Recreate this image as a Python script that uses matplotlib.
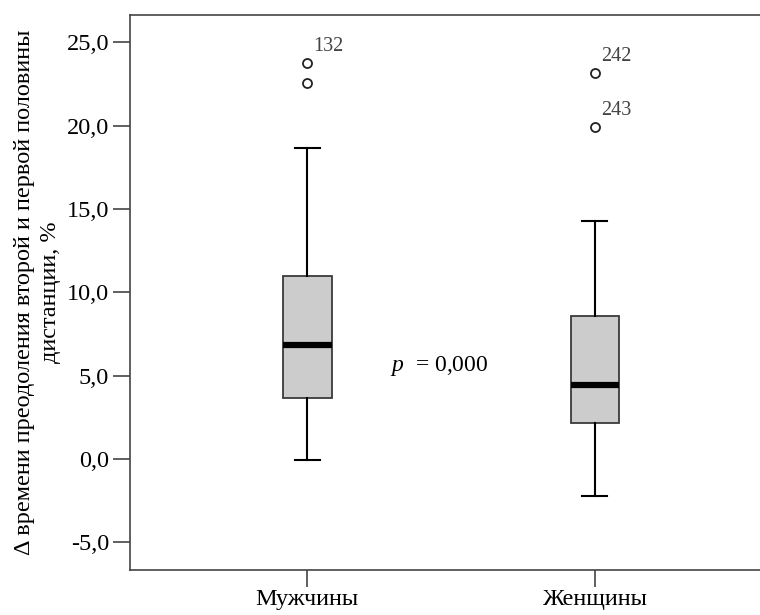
import matplotlib.pyplot as plt

plt.rcParams['font.family'] = ['Liberation Serif', 'DejaVu Serif']
plt.rcParams['mathtext.fontset'] = 'custom'
plt.rcParams['mathtext.it'] = 'Liberation Serif:italic'
plt.rcParams['mathtext.rm'] = 'Liberation Serif'

# Данные боксплотов
groups = ['Мужчины', 'Женщины']
q1 = [3.68, 2.18]
med = [6.84, 4.44]
q3 = [10.98, 8.60]
whis_lo = [-0.05, -2.2]
whis_hi = [18.64, 14.28]
outliers = [[23.77, 22.57], [23.14, 19.94]]
outlier_ids = [['132', ''], ['242', '243']]
yticks = [-5, 0, 5, 10, 15, 20, 25]

stats = []
for i in range(len(groups)):
    stats.append({'med': med[i], 'q1': q1[i], 'q3': q3[i],
                  'whislo': whis_lo[i], 'whishi': whis_hi[i],
                  'fliers': outliers[i], 'label': groups[i]})

fig = plt.figure(figsize=(7.6, 6.15), dpi=100)
ax = fig.add_axes([130 / 760, 45 / 615, 1 - 130 / 760 + 0.01, 555 / 615])

ax.bxp(stats, positions=[1, 2], widths=0.17, capwidths=0.087, patch_artist=True,
       boxprops=dict(facecolor='#cccccc', edgecolor='#3a3a3a', linewidth=1.3),
       medianprops=dict(color='black', linewidth=4.5, solid_capstyle='butt'),
       whiskerprops=dict(color='black', linewidth=1.5),
       capprops=dict(color='black', linewidth=1.5),
       flierprops=dict(marker='o', markersize=6.5, markerfacecolor='none',
                       markeredgecolor='#222222', markeredgewidth=1.3))

# номера выбросов
for i in range(len(groups)):
    for val, lab in zip(outliers[i], outlier_ids[i]):
        if lab:
            ax.annotate(lab, (i + 1, val), xytext=(4.5, 5), textcoords='offset points',
                        ha='left', va='bottom', fontsize=14.5, color='#444444')

ax.text(1.46, 5.6, r'$p$  = 0,000', fontsize=17, ha='center', va='center')

ax.set_xlim(0.384, 2.6)
ax.set_ylim(-6.66, 26.64)
ax.set_yticks(yticks)
ax.set_yticklabels([f'{t:.1f}'.replace('.', ',') for t in yticks])
ax.tick_params(axis='both', direction='out', length=12, width=1.2, color='#444444',
               labelsize=17.5)
ax.tick_params(axis='y', pad=3)
ax.tick_params(axis='x', pad=2, labelsize=17.5)
for side in ['left', 'bottom', 'top']:
    ax.spines[side].set_color('#444444')
    ax.spines[side].set_linewidth(1.2)
ax.spines['right'].set_visible(False)

ax.set_ylabel('Δ времени преодоления второй и первой половины\nдистанции, %',
              fontsize=17.5, labelpad=4, linespacing=1.3)

fig.savefig('out.png', dpi=100)
